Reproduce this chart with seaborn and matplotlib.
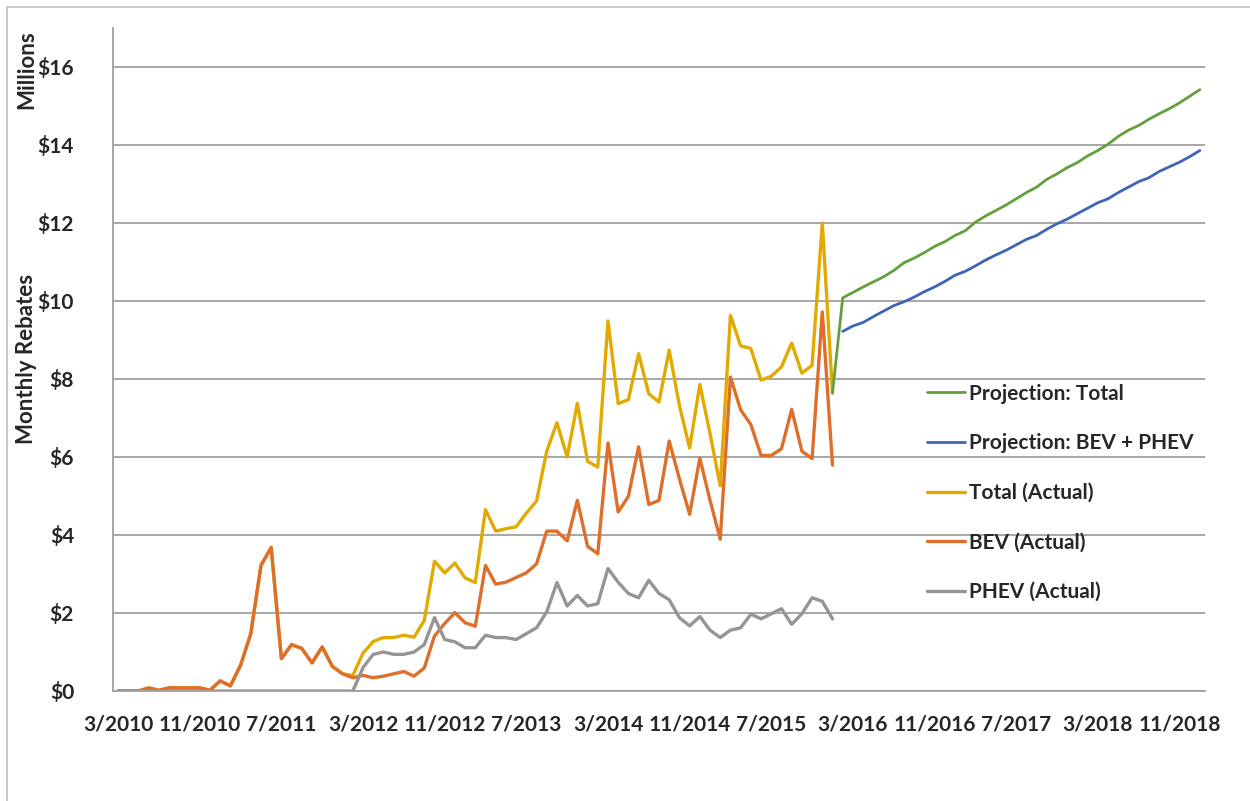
import numpy as np
import pandas as pd
import matplotlib
matplotlib.use("Agg")
import matplotlib.pyplot as plt
from matplotlib.patches import Rectangle
import seaborn as sns

# monthly rebates, millions of $, month 0 = 3/2010
total_actual = [0.0, 0.0, 0.0, 0.08, 0.02, 0.08, 0.08, 0.08, 0.08, 0.02,
                0.26, 0.13, 0.66, 1.47, 3.22, 3.68, 0.83, 1.19, 1.09, 0.72,
                1.13, 0.63, 0.44, 0.40, 0.97, 1.27, 1.37, 1.37, 1.43, 1.38,
                1.81, 3.33, 3.03, 3.28, 2.90, 2.78, 4.65, 4.10, 4.16, 4.21,
                4.56, 4.87, 6.15, 6.88, 6.00, 7.38, 5.89, 5.74, 9.49, 7.37,
                7.47, 8.65, 7.62, 7.41, 8.74, 7.32, 6.23, 7.86, 6.60, 5.26,
                9.63, 8.85, 8.78, 7.97, 8.07, 8.31, 8.92, 8.15, 8.35, 12.0,
                7.64]
bev_actual = [0.0, 0.0, 0.0, 0.08, 0.02, 0.08, 0.08, 0.08, 0.08, 0.02,
              0.26, 0.13, 0.66, 1.47, 3.22, 3.68, 0.83, 1.19, 1.09, 0.72,
              1.13, 0.63, 0.44, 0.34, 0.40, 0.34, 0.38, 0.44, 0.50, 0.38,
              0.59, 1.41, 1.73, 2.01, 1.75, 1.66, 3.22, 2.74, 2.79, 2.91,
              3.03, 3.26, 4.10, 4.10, 3.85, 4.89, 3.71, 3.52, 6.36, 4.59,
              4.99, 6.26, 4.78, 4.89, 6.41, 5.44, 4.53, 5.97, 4.89, 3.89,
              8.05, 7.21, 6.83, 6.04, 6.04, 6.21, 7.22, 6.15, 5.96, 9.72,
              5.79]
phev_actual = [0.0, 0.0, 0.0, 0.0, 0.0, 0.0, 0.0, 0.0, 0.0, 0.0,
               0.0, 0.0, 0.0, 0.0, 0.0, 0.0, 0.0, 0.0, 0.0, 0.0,
               0.0, 0.0, 0.0, 0.0, 0.60, 0.94, 1.00, 0.94, 0.94, 1.00,
               1.19, 1.88, 1.32, 1.26, 1.11, 1.11, 1.43, 1.37, 1.37, 1.32,
               1.47, 1.62, 2.03, 2.78, 2.18, 2.45, 2.18, 2.24, 3.14, 2.79,
               2.50, 2.39, 2.84, 2.50, 2.34, 1.88, 1.67, 1.91, 1.56, 1.37,
               1.56, 1.62, 1.97, 1.85, 1.98, 2.11, 1.71, 1.98, 2.39, 2.30,
               1.85]
# projections start at month 70 (total) / 71 (bev + phev)
proj_total = [7.64, 10.08, 10.22, 10.36, 10.49, 10.62, 10.78, 10.98, 11.10, 11.24,
              11.40, 11.52, 11.68, 11.80, 12.02, 12.18, 12.32, 12.46, 12.62, 12.78,
              12.92, 13.12, 13.26, 13.42, 13.55, 13.72, 13.86, 14.02, 14.22, 14.38,
              14.50, 14.66, 14.80, 14.93, 15.08, 15.25, 15.42]
proj_bev_phev = [9.22, 9.36, 9.45, 9.60, 9.74, 9.88, 9.98, 10.10, 10.24, 10.36,
                 10.50, 10.66, 10.76, 10.90, 11.05, 11.18, 11.30, 11.44, 11.58, 11.68,
                 11.84, 11.98, 12.10, 12.24, 12.38, 12.52, 12.62, 12.78, 12.92, 13.06,
                 13.16, 13.32, 13.44, 13.56, 13.70, 13.86]

n_months = 107
tick_labels = ["3/2010", "11/2010", "7/2011", "3/2012", "11/2012", "7/2013", "3/2014",
               "11/2014", "7/2015", "3/2016", "11/2016", "7/2017", "3/2018", "11/2018"]
y_ticks = [0, 2, 4, 6, 8, 10, 12, 14, 16]

sns.set_theme(style="white")
plt.rcParams['font.family'] = ['Lato', 'DejaVu Sans']
plt.rcParams['font.weight'] = 'bold'

fig = plt.figure(figsize=(12.5, 8.01), dpi=100)
# moldura externa (só topo e esquerda aparecem)
fig.patches.append(Rectangle((7 / 1250, -0.5), 1.5, 1.5 - 7 / 801,
                             transform=fig.transFigure, fill=False,
                             edgecolor="#BFBFBF", linewidth=1.2))
ax = fig.add_axes([113 / 1250, 1 - 691 / 801, 1092 / 1250, (691 - 28) / 801])

df_act = pd.DataFrame({"mes": np.arange(len(total_actual)),
                       "total": total_actual, "bev": bev_actual, "phev": phev_actual})
df_pt = pd.DataFrame({"mes": np.arange(70, 70 + len(proj_total)), "v": proj_total})
df_pb = pd.DataFrame({"mes": np.arange(71, 71 + len(proj_bev_phev)), "v": proj_bev_phev})

lw_a = 2.4
lw_p = 2.0
sns.lineplot(data=df_act, x="mes", y="total", color="#E2AA00", linewidth=lw_a, ax=ax)
sns.lineplot(data=df_act, x="mes", y="bev", color="#DD6F2A", linewidth=lw_a, ax=ax)
sns.lineplot(data=df_act, x="mes", y="phev", color="#959595", linewidth=lw_a, ax=ax)
sns.lineplot(data=df_pt, x="mes", y="v", color="#62A03C", linewidth=lw_p, ax=ax)
sns.lineplot(data=df_pb, x="mes", y="v", color="#3C65B4", linewidth=lw_p, ax=ax)

linhas = ax.get_lines()
nomes = ["Total (Actual)", "BEV (Actual)", "PHEV (Actual)",
         "Projection: Total", "Projection: BEV + PHEV"]
ordem = [3, 4, 0, 1, 2]
ax.legend([linhas[i] for i in ordem], [nomes[i] for i in ordem],
          loc="upper left", bbox_to_anchor=(795 / 1092, (691 - 365) / 663),
          frameon=False, handlelength=1.85, handletextpad=0.2,
          labelspacing=1.42, prop={"weight": "bold", "size": 15})

ax.set_xlim(-0.5, n_months - 0.5)
ax.set_ylim(0, 17)
ax.set_xticks(range(0, n_months, 8))
ax.set_xticklabels(tick_labels, fontsize=15, fontweight="bold")
ax.set_yticks(y_ticks)
ax.set_yticklabels([f"${v}" for v in y_ticks], fontsize=15, fontweight="bold")
ax.tick_params(axis="x", length=0, pad=17)
ax.tick_params(axis="y", length=0, pad=28)
ax.yaxis.grid(True, color="#A0A0A0", linewidth=1.3)
ax.set_axisbelow(True)
ax.set_xlabel("")
ax.set_ylabel("")
for lado in ["top", "right"]:
    ax.spines[lado].set_visible(False)
for lado in ["left", "bottom"]:
    ax.spines[lado].set_color("#A0A0A0")
    ax.spines[lado].set_linewidth(1.3)

fig.text(27 / 1250, 1 - 70 / 801, "Millions", rotation=90, ha="center", va="center",
         fontsize=16, fontweight="bold")
fig.text(27 / 1250, 1 - 359 / 801, "Monthly Rebates", rotation=90, ha="center",
         va="center", fontsize=16, fontweight="bold")

fig.savefig("out.png", dpi=100)
